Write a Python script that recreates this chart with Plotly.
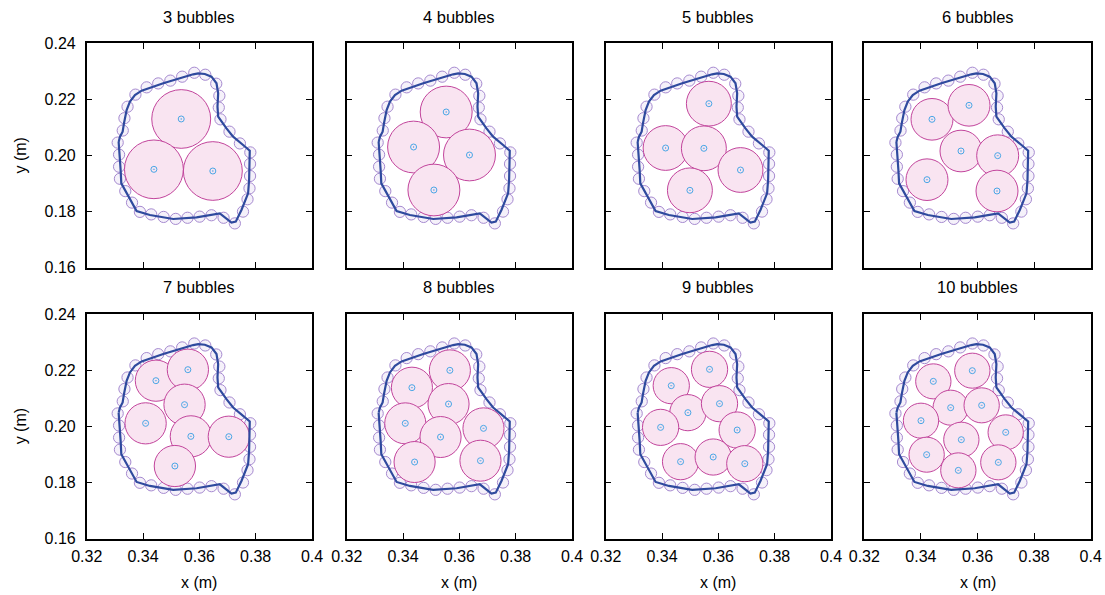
import plotly.graph_objects as go

# ---------------- data ----------------
bubble_counts = [3, 4, 5, 6, 7, 8, 9, 10]

# sampled boundary points (small circles), m
probe_x = [0.3310, 0.3315, 0.3315, 0.3318, 0.3337, 0.3361, 0.3389, 0.3429, 0.3473, 0.3516,
           0.3558, 0.3601, 0.3643, 0.3686, 0.3726, 0.3755, 0.3771, 0.3778, 0.3780, 0.3780,
           0.3781, 0.3744, 0.3707, 0.3675, 0.3669, 0.3671, 0.3660, 0.3621, 0.3582, 0.3539,
           0.3497, 0.3454, 0.3413, 0.3373, 0.3345, 0.3334, 0.3328]
probe_y = [0.2046, 0.2003, 0.1960, 0.1917, 0.1873, 0.1832, 0.1799, 0.1790, 0.1781, 0.1774,
           0.1778, 0.1782, 0.1787, 0.1778, 0.1758, 0.1800, 0.1844, 0.1883, 0.1927, 0.1970,
           0.2011, 0.2043, 0.2085, 0.2129, 0.2171, 0.2213, 0.2256, 0.2288, 0.2295, 0.2281,
           0.2267, 0.2257, 0.2243, 0.2217, 0.2174, 0.2133, 0.2089]
probe_r = 0.0020

# domain contour (blue line), m
contour_x = [0.33134, 0.33158, 0.33205, 0.33229, 0.33513, 0.33772, 0.34245, 0.35072, 0.35900,
             0.36727, 0.37140, 0.37294, 0.37495, 0.37731, 0.37767, 0.37790, 0.37554, 0.37199,
             0.36963, 0.36668, 0.36644, 0.36668, 0.36609, 0.36431, 0.36195, 0.35959, 0.35781,
             0.35309, 0.34718, 0.33950, 0.33713, 0.33536, 0.33418, 0.33323, 0.33276, 0.33182,
             0.33134]
contour_y = [0.20481, 0.19958, 0.19483, 0.19007, 0.18473, 0.18021, 0.17878, 0.17736, 0.17795,
             0.17938, 0.17605, 0.17641, 0.18056, 0.18651, 0.19126, 0.20172, 0.20374, 0.20672,
             0.20969, 0.21385, 0.21741, 0.22217, 0.22574, 0.22811, 0.22906, 0.22930, 0.22894,
             0.22752, 0.22574, 0.22312, 0.22157, 0.21920, 0.21623, 0.21147, 0.20850, 0.20672,
             0.20481]

# bubble centres and radii per panel
bubbles_x = [
    [0.35356, 0.34387, 0.36479],
    [0.35533, 0.34375, 0.36360, 0.35096],
    [0.35663, 0.34127, 0.35486, 0.36786, 0.34990],
    [0.34392, 0.35700, 0.35417, 0.36713, 0.34215, 0.36689],
    [0.34458, 0.35592, 0.35474, 0.34092, 0.35699, 0.37046, 0.35131],
    [0.34316, 0.35663, 0.35616, 0.34080, 0.35332, 0.36857, 0.34411, 0.36750],
    [0.34328, 0.35687, 0.34919, 0.36041, 0.33950, 0.36668, 0.34659, 0.35817, 0.36939],
    [0.34439, 0.35817, 0.35052, 0.36147, 0.34003, 0.36996, 0.35429, 0.34203, 0.36736, 0.35323],
]
bubbles_y = [
    [0.21302, 0.19507, 0.19447],
    [0.21551, 0.20303, 0.20018, 0.18770],
    [0.21848, 0.20267, 0.20256, 0.19483, 0.18758],
    [0.21290, 0.21789, 0.20160, 0.19994, 0.19138, 0.18734],
    [0.21626, 0.22018, 0.20772, 0.20107, 0.19644, 0.19632, 0.18588],
    [0.21377, 0.21994, 0.20795, 0.20107, 0.19620, 0.19929, 0.18730, 0.18777],
    [0.21448, 0.22030, 0.20487, 0.20807, 0.19964, 0.19869, 0.18742, 0.18908, 0.18671],
    [0.21602, 0.21982, 0.20665, 0.20748, 0.20202, 0.19786, 0.19525, 0.18991, 0.18718, 0.18433],
]
bubble_r = [0.01046, 0.00922, 0.00798, 0.00742, 0.00733, 0.00730, 0.00644, 0.00624]

x_tickvals = [0.32, 0.34, 0.36, 0.38, 0.40]
x_ticktext = ["0.32", "0.34", "0.36", "0.38", "0.4"]
y_tickvals = [0.16, 0.18, 0.20, 0.22, 0.24]
y_ticktext = ["0.16", "0.18", "0.20", "0.22", "0.24"]

# ---------------- layout ----------------
W, H = 1105, 595
col_px = [(86.7, 312.0), (346.7, 572.0), (605.7, 831.0), (864.3, 1090.7)]
row_px = [(43.3, 267.7), (314.0, 538.7)]

FONT = "Liberation Sans, Arial, Helvetica, sans-serif"
BLUE = "#2f4a9e"
MAG = "#c2449c"
PINK = "#f9e4f1"
LAV = "#a68ad0"
CYAN = "#4aa6e6"

fig = go.Figure()
shapes = []
annotations = []
layout_axes = {}

for i, n in enumerate(bubble_counts):
    r, c = divmod(i, 4)
    k = i + 1
    xa = "x" if k == 1 else f"x{k}"
    ya = "y" if k == 1 else f"y{k}"
    x0p, x1p = col_px[c]
    y0p, y1p = row_px[r]
    common = dict(showline=True, linecolor="black", linewidth=1.5, mirror="ticks",
                  ticks="inside", ticklen=6, tickwidth=1.2, tickcolor="black",
                  showgrid=False, zeroline=False, automargin=False,
                  tickfont=dict(family=FONT, size=16, color="black"))
    layout_axes["xaxis" if k == 1 else f"xaxis{k}"] = dict(
        common, domain=[x0p / W, x1p / W], range=[0.32, 0.40], anchor=ya,
        tickvals=x_tickvals, ticktext=x_ticktext, showticklabels=(r == 1),
        ticklabelstandoff=2)
    layout_axes["yaxis" if k == 1 else f"yaxis{k}"] = dict(
        common, domain=[1 - y1p / H, 1 - y0p / H], range=[0.16, 0.24], anchor=xa,
        tickvals=y_tickvals, ticktext=y_ticktext, showticklabels=(c == 0),
        ticklabelstandoff=6)

    # boundary probe circles
    for px, py in zip(probe_x, probe_y):
        shapes.append(dict(type="circle", xref=xa, yref=ya, layer="below",
                           x0=px - probe_r, x1=px + probe_r, y0=py - probe_r, y1=py + probe_r,
                           line=dict(color=LAV, width=1), fillcolor="rgba(200,180,230,0.18)"))
    # bubbles
    rb = bubble_r[i]
    for bx, by in zip(bubbles_x[i], bubbles_y[i]):
        shapes.append(dict(type="circle", xref=xa, yref=ya, layer="below",
                           x0=bx - rb, x1=bx + rb, y0=by - rb, y1=by + rb,
                           line=dict(color=MAG, width=1), fillcolor=PINK))

    fig.add_trace(go.Scatter(x=contour_x, y=contour_y, mode="lines", xaxis=xa, yaxis=ya,
                             line=dict(color=BLUE, width=2.2), showlegend=False, hoverinfo="skip"))
    fig.add_trace(go.Scatter(x=bubbles_x[i], y=bubbles_y[i], mode="markers", xaxis=xa, yaxis=ya,
                             marker=dict(symbol="circle-open-dot", size=6, color=CYAN,
                                         line=dict(width=1, color=CYAN)),
                             showlegend=False, hoverinfo="skip"))

    title_y = 17 if r == 0 else 287
    annotations.append(dict(text=f"{n} bubbles", x=(x0p + x1p) / 2 / W, y=1 - title_y / H,
                            xref="paper", yref="paper", showarrow=False,
                            xanchor="center", yanchor="middle",
                            font=dict(family=FONT, size=16.5, color="black")))
    if r == 1:
        annotations.append(dict(text="x (m)", x=(x0p + x1p) / 2 / W, y=1 - 582 / H,
                                xref="paper", yref="paper", showarrow=False,
                                xanchor="center", yanchor="middle",
                                font=dict(family=FONT, size=16, color="black")))
    if c == 0:
        annotations.append(dict(text="y (m)", x=20 / W, y=1 - (y0p + y1p) / 2 / H,
                                xref="paper", yref="paper", showarrow=False, textangle=-90,
                                xanchor="center", yanchor="middle",
                                font=dict(family=FONT, size=16, color="black")))

fig.update_layout(width=W, height=H, margin=dict(l=0, r=0, t=0, b=0, autoexpand=False),
                  paper_bgcolor="white", plot_bgcolor="white",
                  shapes=shapes, annotations=annotations, **layout_axes)

fig.write_html("out.html", config={"displayModeBar": False},
               post_script="document.body.style.margin='0';document.body.style.overflow='hidden';")
